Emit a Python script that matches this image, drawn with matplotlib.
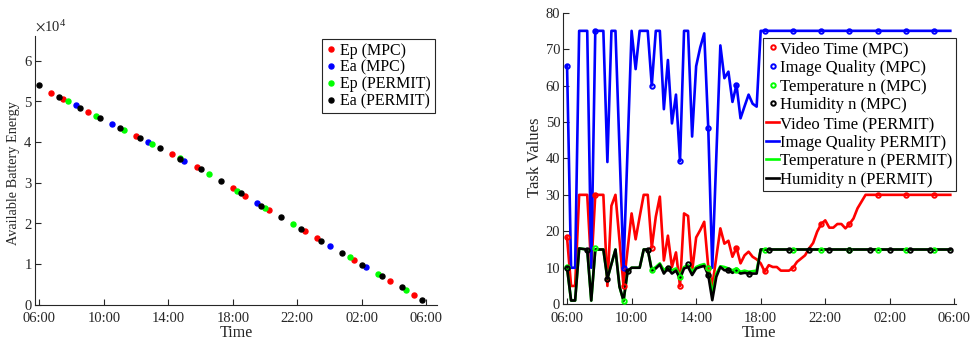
import numpy as np
import matplotlib
matplotlib.use("Agg")
import matplotlib.pyplot as plt
from matplotlib.ticker import ScalarFormatter

plt.rcParams['font.family'] = ['Liberation Serif', 'DejaVu Serif']
plt.rcParams['mathtext.fontset'] = 'stix'

# time axis: hours after 06:00
tick_hours = [0, 4, 8, 12, 16, 20, 24]
tick_labels = ['06:00', '10:00', '14:00', '18:00', '22:00', '02:00', '06:00']

# ---- left panel: available battery energy ----
ep_mpc_t = [0.75, 1.5, 3.0, 6.0, 8.25, 9.75, 12.0, 12.75, 14.25, 16.5, 17.25, 19.5, 21.75, 23.25]
ep_mpc_e = [52100, 50600, 47400, 41500, 36900, 33900, 28700, 26800, 23200, 18100, 16300, 10900, 5800, 2400]
ea_mpc_t = [2.25, 4.5, 6.75, 9.0, 13.5, 18.0, 20.25]
ea_mpc_e = [49000, 44400, 40000, 35300, 25000, 14500, 9300]
ep_per_t = [1.75, 3.5, 5.25, 7.0, 8.75, 10.5, 12.25, 14.0, 15.75, 19.25, 21.0, 22.75]
ep_per_e = [50000, 46400, 43000, 39500, 36100, 32200, 27900, 23800, 19900, 11600, 7500, 3600]
ea_per_t = [0, 1.25, 2.5, 3.75, 5.0, 6.25, 7.5, 8.75, 10.0, 11.25, 12.5, 13.75, 15.0,
            16.25, 17.5, 18.75, 20.0, 21.25, 22.5, 23.75]
ea_per_e = [53900, 51100, 48400, 45800, 43500, 41000, 38500, 35900, 33300, 30400, 27500,
            24300, 21500, 18600, 15600, 12700, 9800, 7000, 4200, 1100]

# ---- right panel: task values ----
mpc_t = [0, 1.75, 3.5, 5.25, 7.0, 8.75, 10.5, 12.25, 14.0, 15.75, 17.5, 19.25, 21.0, 22.75]
video_mpc = [18.3, 30, 5, 15.5, 5, 10, 15.3, 9, 10, 22, 22, 30, 30, 30]
image_mpc = [65.4, 75, 10, 60, 39.3, 48.4, 60.2, 75, 75, 75, 75, 75, 75, 75]
temp_mpc = [10.2, 15.3, 0.8, 9.5, 7.5, 10, 9.5, 15, 15, 15, 15, 15, 15, 15]
hum_mpc_t = [0, 1.25, 2.5, 3.75, 5.0, 6.25, 7.5, 8.75, 10.0, 11.25, 12.5, 13.75, 15.0,
             16.25, 17.5, 18.75, 20.0, 21.25, 22.5, 23.75]
hum_mpc = [10, 15, 7, 9, 15, 9.8, 10.9, 8, 9.3, 8.4, 15, 15, 15, 15, 15, 15, 15, 15, 15, 15]

video_t = [0, 0.25, 0.5, 0.75, 1.25, 1.5, 1.75, 2.25, 2.5, 2.75, 3.0, 3.5, 4.0, 4.25, 4.5,
           4.75, 5.0, 5.25, 5.5, 5.75, 6.0, 6.25, 6.5, 6.75, 7.0, 7.25, 7.5, 7.75, 8.0, 8.25,
           8.5, 8.75, 9.0, 9.5, 9.75, 10.0, 10.25, 10.5, 10.75, 11.0, 11.25, 11.5, 11.75,
           12.0, 12.25, 12.5, 12.75, 13.0, 13.25, 13.75, 14.0, 14.25, 14.75, 15.0, 15.25,
           15.5, 15.75, 16.0, 16.25, 16.5, 16.75, 17.0, 17.25, 17.5, 17.75, 18.0, 18.5, 23.75]
video_v = [18.3, 5, 5, 30, 30, 10, 30, 30, 5, 27, 30, 5, 24.9, 17.8, 24, 30, 30, 15.5, 24,
           29.5, 12, 18.8, 10.2, 14.2, 5, 24.9, 24.2, 8.9, 18.3, 20.3, 22.6, 10.2, 5, 20.8,
           16.6, 17.4, 13, 15.5, 11.2, 13.4, 14.4, 13, 12.3, 11.2, 8.9, 10.7, 10.2, 10.2,
           9.2, 9.2, 10, 11.6, 13.4, 15.3, 16.8, 19.9, 22, 23, 21, 21, 22, 22, 20.8, 22,
           23.5, 26.3, 30, 30]

image_t = [0, 0.25, 0.5, 0.75, 1.25, 1.5, 1.75, 2.25, 2.5, 2.75, 3.0, 3.5, 4.0, 4.25, 4.5,
           5.0, 5.25, 5.5, 5.75, 6.0, 6.25, 6.5, 6.75, 7.0, 7.25, 7.5, 7.75, 8.0, 8.25, 8.5,
           8.75, 9.0, 9.5, 9.75, 10.0, 10.25, 10.5, 10.75, 11.0, 11.25, 11.5, 11.75, 12.0, 23.75]
image_v = [65.4, 10, 10, 75, 75, 10, 75, 75, 39, 75, 75, 10, 75, 64.5, 75, 75, 60, 75, 75,
           53.5, 67, 49.6, 57.5, 39.3, 75, 75, 46, 65.3, 70.4, 74.3, 48.4, 10, 71, 62, 63.8,
           55.5, 60.2, 51, 54.3, 57.5, 55, 54.2, 75, 75]

sensor_t = [0, 0.25, 0.5, 0.75, 1.25, 1.5, 1.75, 2.25, 2.5, 3.0, 3.25, 3.5, 3.75, 4.0, 4.5,
            4.75, 5.0, 5.25, 5.5, 5.75, 6.0, 6.25, 6.5, 6.75, 7.0, 7.25, 7.5, 7.75, 8.0,
            8.25, 8.5, 8.75, 9.0, 9.25, 9.5, 9.75, 10.0, 10.25, 10.5, 10.75, 11.0, 11.25,
            11.75, 12.0, 23.75]
temp_v = [10, 1, 1, 15.3, 15, 1, 15, 15, 7, 15, 4.8, 0.8, 9, 10, 10, 15, 15, 9.5, 10.2,
          11.2, 9.3, 10.2, 9.3, 9.8, 7.7, 10.2, 10.7, 8.9, 10.2, 10.7, 11, 8.9, 2.9, 8.4,
          10.4, 10.2, 9.8, 9.3, 9.8, 8.9, 9.2, 8.9, 9.2, 15, 15]
hum_v = [10, 1, 1, 15.3, 15, 1, 15, 15, 7, 15, 4.8, 1, 9, 10, 10, 15, 15, 9.2, 9.8, 10.9,
         8.4, 9.8, 8.4, 9.2, 7, 9.8, 10.2, 8, 9.8, 10.2, 10.5, 8, 1.1, 7.5, 10.2, 9.3, 9.3,
         8.6, 9.2, 8.4, 8.6, 8.4, 8.4, 15, 15]

gray = (0.15, 0.15, 0.15)
tick_fs = 10.5

fig = plt.figure(figsize=(9.71, 3.41), dpi=100)
ax1 = fig.add_axes([0.036, 0.107, 0.414, 0.787])
ax2 = fig.add_axes([0.5795, 0.108, 0.405, 0.855])


def style_axes(ax, label_fs):
    for s in ['top', 'right']:
        ax.spines[s].set_visible(False)
    for s in ['left', 'bottom']:
        ax.spines[s].set_color(gray)
        ax.spines[s].set_linewidth(0.8)
    ax.tick_params(direction='in', length=4, width=0.8, colors=gray, labelsize=tick_fs)
    ax.tick_params(axis='x', pad=5.5)
    ax.tick_params(axis='y', pad=1.8)
    ax.set_xticks(tick_hours)
    ax.set_xticklabels(tick_labels)
    ax.set_xlabel('Time', fontsize=label_fs, color=gray, labelpad=0)


# left panel
ms = 3.6
ax1.plot(ep_mpc_t, ep_mpc_e, 'o', color='red', ms=ms, label='Ep (MPC)')
ax1.plot(ea_mpc_t, ea_mpc_e, 'o', color='blue', ms=ms, label='Ea (MPC)')
ax1.plot(ep_per_t, ep_per_e, 'o', color=(0, 1, 0), ms=ms, label='Ep (PERMIT)')
ax1.plot(ea_per_t, ea_per_e, 'o', color='black', ms=ms, label='Ea (PERMIT)')
style_axes(ax1, 11.5)
ax1.set_xlim(-0.27, 24.66)
ax1.set_ylim(0, 66000)
ax1.set_yticks(np.arange(0, 60001, 10000))
fmt = ScalarFormatter(useMathText=True)
fmt.set_powerlimits((0, 0))
ax1.yaxis.set_major_formatter(fmt)
ax1.yaxis.get_offset_text().set_fontsize(tick_fs)
ax1.yaxis.get_offset_text().set_color(gray)
ax1.set_ylabel('Available Battery Energy', fontsize=10.3, color=gray)
ax1.yaxis.set_label_coords(-0.036, 0.49)
leg1 = ax1.legend(loc='upper right', bbox_to_anchor=(0.995, 0.99), borderaxespad=0,
                  fontsize=11.5, handlelength=0.6, handletextpad=0.3, labelspacing=0.05,
                  borderpad=0.25, fancybox=False, framealpha=1)
leg1.get_frame().set_edgecolor(gray)
leg1.get_frame().set_linewidth(0.8)

# right panel
lw = 1.9
ax2.plot(video_t, video_v, color='red', lw=lw, label='Video Time (PERMIT)', zorder=2)
ax2.plot(image_t, image_v, color='blue', lw=lw, label='Image Quality PERMIT)', zorder=2)
ax2.plot(sensor_t, temp_v, color=(0, 1, 0), lw=lw, label='Temperature n (PERMIT)', zorder=2)
ax2.plot(sensor_t, hum_v, color='black', lw=lw, label='Humidity n (PERMIT)', zorder=2)
mk = dict(linestyle='none', marker='o', ms=3.2, mew=1.4, mfc='none', zorder=3)
ax2.plot(mpc_t, video_mpc, color='red', label='Video Time (MPC)', **mk)
ax2.plot(mpc_t, image_mpc, color='blue', label='Image Quality (MPC)', **mk)
ax2.plot(mpc_t, temp_mpc, color=(0, 1, 0), label='Temperature n (MPC)', **mk)
ax2.plot(hum_mpc_t, hum_mpc, color='black', label='Humidity n (MPC)', **mk)
style_axes(ax2, 12)
ax2.set_xlim(-0.27, 24.1)
ax2.set_ylim(0, 80)
ax2.set_yticks(range(0, 81, 10))
ax2.set_ylabel('Task Values', fontsize=12, color=gray)
ax2.yaxis.set_label_coords(-0.05, 0.503)
handles, labels = ax2.get_legend_handles_labels()
order = [4, 5, 6, 7, 0, 1, 2, 3]
leg2 = ax2.legend([handles[i] for i in order], [labels[i] for i in order],
                  loc='upper right', bbox_to_anchor=(1.0, 0.913), borderaxespad=0,
                  fontsize=12, handlelength=0.8, handletextpad=0.05, labelspacing=0.16,
                  borderpad=0.2, fancybox=False, framealpha=1)
leg2.get_frame().set_edgecolor(gray)
leg2.get_frame().set_linewidth(0.8)

fig.savefig('out.png', dpi=100)
